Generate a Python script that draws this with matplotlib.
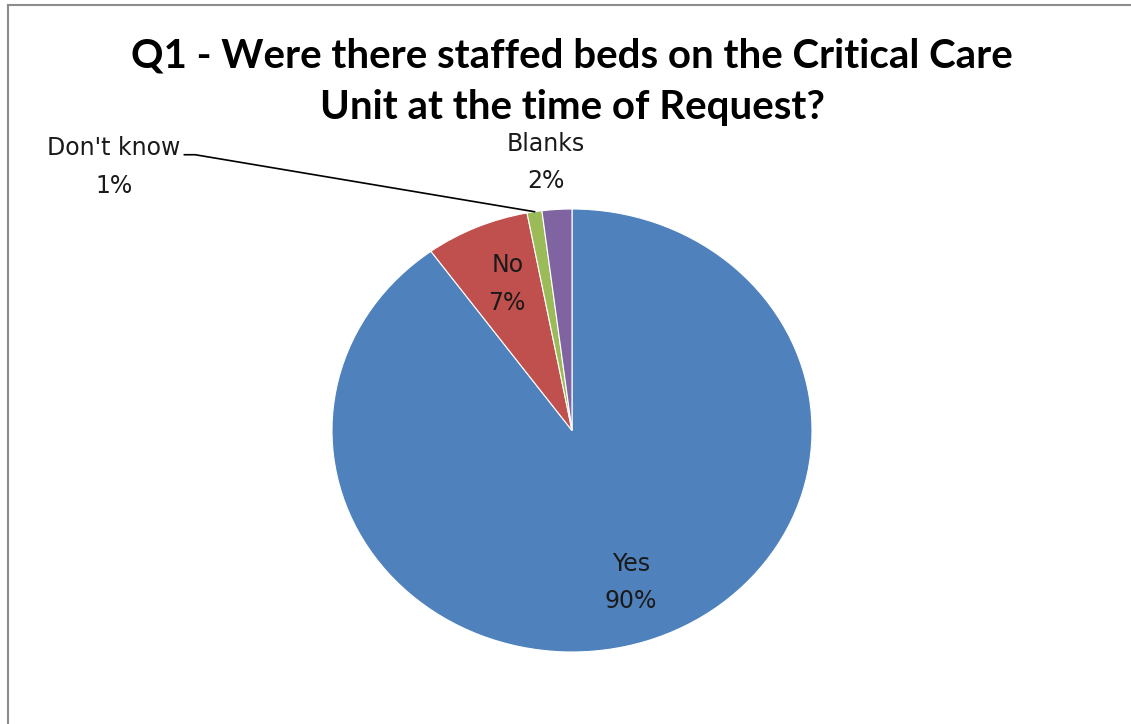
import numpy as np
import matplotlib
matplotlib.use('Agg')
import matplotlib.pyplot as plt
from matplotlib.lines import Line2D

labels = ['Yes', 'No', "Don't know", 'Blanks']
values = [90, 7, 1, 2]
colors = ['#4F81BD', '#C0504D', '#9BBB59', '#8064A2']
title = 'Q1 - Were there staffed beds on the Critical Care\nUnit at the time of Request?'

W, H = 1131, 724
fig = plt.figure(figsize=(W / 100, H / 100), dpi=100)

# pie is slightly wider than tall in the reference, so use an auto-aspect axes
ax = fig.add_axes([332 / W, 1 - 652 / H, 480 / W, 443 / H])
wedges, _ = ax.pie(values, colors=colors, startangle=90, counterclock=False,
                   wedgeprops=dict(edgecolor='white', linewidth=0.8))
ax.set_aspect('auto')
ax.set_xlim(-1, 1)
ax.set_ylim(-1, 1)
ax.axis('off')

lab_font = dict(family='DejaVu Sans', fontsize=17, color='#1a1a1a',
                ha='center', va='center', linespacing=1.7)

def mid(w):
    return np.deg2rad((w.theta1 + w.theta2) / 2)

# inside labels
for i in (0, 1):
    a = mid(wedges[i])
    ax.text(0.73 * np.cos(a) + 0.02, 0.72 * np.sin(a), f'{labels[i]}\n{values[i]}%', **lab_font)

# Blanks above the pie
ax.text(-0.11, 1.21, f'{labels[3]}\n{values[3]}%', clip_on=False, **lab_font)

# Don't know with leader line
a = mid(wedges[2])
tip = (np.cos(a), np.sin(a))
ax.text(-1.91, 1.19, f'{labels[2]}\n{values[2]}%', clip_on=False, **lab_font)
ax.add_line(Line2D([-1.615, -1.57, tip[0]], [1.245, 1.245, tip[1]],
                   color='black', linewidth=1.2, clip_on=False))

fig.text(572 / W, 1 - 82 / H, title, ha='center', va='center',
         family='Lato', fontweight='bold', fontsize=29, linespacing=1.5)

# chart frame (top and left edges visible)
fig.add_artist(Line2D([8 / W, 8 / W], [0, 1 - 5 / H], color='#8c8c8c', linewidth=1.5))
fig.add_artist(Line2D([8 / W, 1], [1 - 5 / H, 1 - 5 / H], color='#8c8c8c', linewidth=1.5))

fig.savefig('out.png', dpi=100, facecolor='white')
